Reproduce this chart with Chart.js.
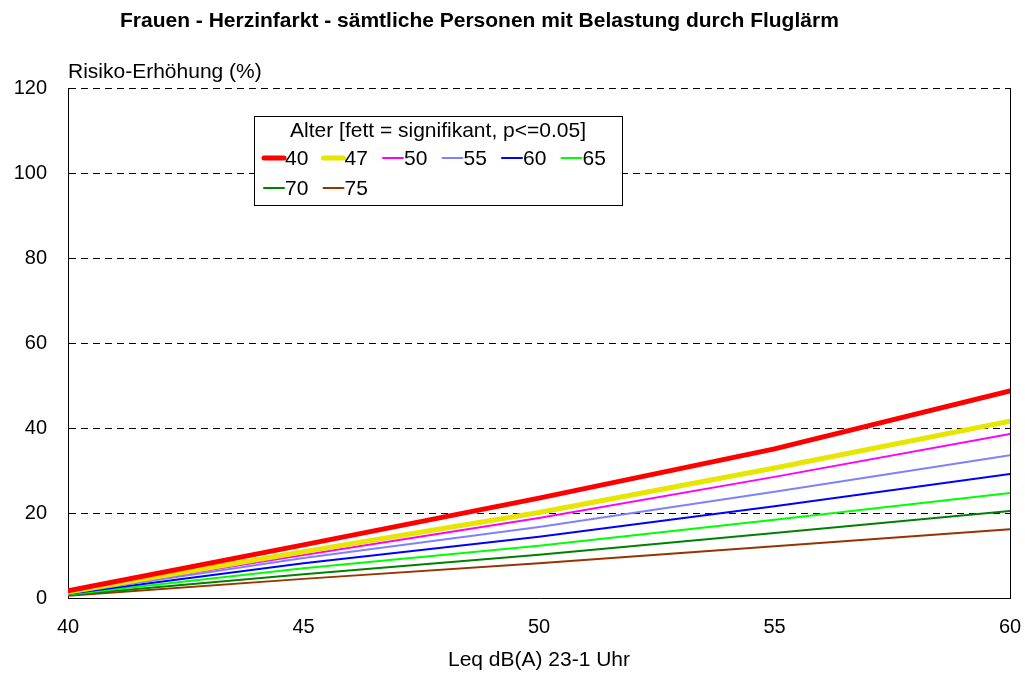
<!DOCTYPE html>
<html>
    <head>
        <title>Frauen - Herzinfarkt</title>
        <script src="https://cdn.jsdelivr.net/npm/chart.js@4"></script>
        <style>
            body { margin: 0; background: #fff; }
        </style>
    </head>
    <body>
        <canvas id="chart" width="1025" height="677"></canvas>

        <script>
            const leq = [40, 45, 50, 55, 60]
            const ages = ['40', '47', '50', '55', '60', '65', '70', '75']
            const age40 = [1.7, 12.5, 23.5, 35.1, 48.7]
            const age47 = [1.4, 10.9, 20.1, 30.6, 41.6]
            const age50 = [1.3, 10.1, 18.8, 28.5, 38.6]
            const age55 = [1.1, 9.4, 16.7, 25.0, 33.6]
            const age60 = [1.0, 8.2, 14.4, 21.6, 29.2]
            const age65 = [0.8, 7.0, 12.3, 18.4, 24.7]
            const age70 = [0.7, 5.6, 10.2, 15.3, 20.5]
            const age75 = [0.5, 4.5, 8.2, 12.2, 16.2]
            const yTicks = [0, 20, 40, 60, 80, 100, 120]

            const series = [age40, age47, age50, age55, age60, age65, age70, age75]
            const colors = ['#ff0000', '#e6e600', '#ff00ff', '#8080ff', '#0000ff', '#00ff00', '#008000', '#993300']
            const widths = [5, 5, 2, 2, 2, 2, 2, 2]

            const font = 'Liberation Sans, Arial, sans-serif'

            // title, y label and the boxed legend are drawn by hand
            const extras = {
                id: 'extras',
                afterDraw(chart) {
                    const ctx = chart.ctx
                    ctx.save()
                    ctx.fillStyle = '#000'
                    ctx.textBaseline = 'middle'
                    ctx.font = 'bold 21px ' + font
                    ctx.textAlign = 'left'
                    ctx.fillText('Frauen - Herzinfarkt - sämtliche Personen mit Belastung durch Fluglärm', 120, 21)
                    ctx.font = '21px ' + font
                    ctx.fillText('Risiko-Erhöhung (%)', 68, 72)

                    // legend
                    const bx = 254, by = 116, bw = 368, bh = 89
                    ctx.fillStyle = '#fff'
                    ctx.fillRect(bx, by, bw, bh)
                    ctx.strokeStyle = '#000'
                    ctx.lineWidth = 1
                    ctx.strokeRect(bx + 0.5, by + 0.5, bw, bh)
                    ctx.fillStyle = '#000'
                    ctx.textAlign = 'center'
                    ctx.fillText('Alter [fett = signifikant, p<=0.05]', bx + bw / 2, by + 15)
                    ctx.textAlign = 'left'
                    chart.data.datasets.forEach((ds, i) => {
                        const col = i % 6, row = Math.floor(i / 6)
                        const x = bx + 9 + col * 59.5
                        const y = by + 42 + row * 30
                        ctx.strokeStyle = ds.borderColor
                        ctx.lineWidth = ds.borderWidth
                        ctx.lineCap = 'round'
                        ctx.beginPath()
                        ctx.moveTo(x + 1, y)
                        ctx.lineTo(x + 21, y)
                        ctx.stroke()
                        ctx.fillStyle = '#000'
                        ctx.fillText(ds.label, x + 22, y + 1)
                    })
                    ctx.restore()
                },
            }

            new Chart('chart', {
                type: 'line',
                data: {
                    datasets: ages.map((a, i) => ({
                        label: a,
                        data: leq.map((x, j) => ({ x, y: series[i][j] })),
                        borderColor: colors[i],
                        borderWidth: widths[i],
                        pointRadius: 0,
                        tension: 0,
                        fill: false,
                        borderCapStyle: 'round',
                    })),
                },
                options: {
                    responsive: false,
                    animation: false,
                    layout: { padding: { top: 88, right: 15, left: 0, bottom: 0 } },
                    plugins: {
                        legend: { display: false },
                        tooltip: { enabled: false },
                    },
                    scales: {
                        x: {
                            type: 'linear',
                            min: 40,
                            max: 60,
                            afterBuildTicks: s => { s.ticks = leq.map(v => ({ value: v })) },
                            afterFit: s => {
                                s.height = 79
                                s.paddingLeft = 0
                                s.paddingRight = 0
                            },
                            ticks: { color: '#000', font: { family: font, size: 20 }, padding: 17 },
                            grid: {
                                drawTicks: false,
                                color: c => (c.tick && c.tick.value === 60 ? '#000' : 'rgba(0,0,0,0)'),
                            },
                            border: { color: '#000', width: 1 },
                            title: {
                                display: true,
                                text: 'Leq dB(A) 23-1 Uhr',
                                color: '#000',
                                font: { family: font, size: 21 },
                                padding: { top: 4 },
                            },
                        },
                        y: {
                            min: 0,
                            max: 120,
                            afterBuildTicks: s => { s.ticks = yTicks.map(v => ({ value: v })) },
                            afterFit: s => { s.width = 68 },
                            ticks: { color: '#000', font: { family: font, size: 20 }, padding: 21 },
                            grid: {
                                drawTicks: false,
                                color: c => (c.tick && c.tick.value === 0 ? 'rgba(0,0,0,0)' : '#000'),
                                lineWidth: 1,
                            },
                            border: { color: '#000', width: 1, dash: [7, 5] },
                        },
                    },
                },
                plugins: [extras],
            })
        </script>
    </body>
</html>
